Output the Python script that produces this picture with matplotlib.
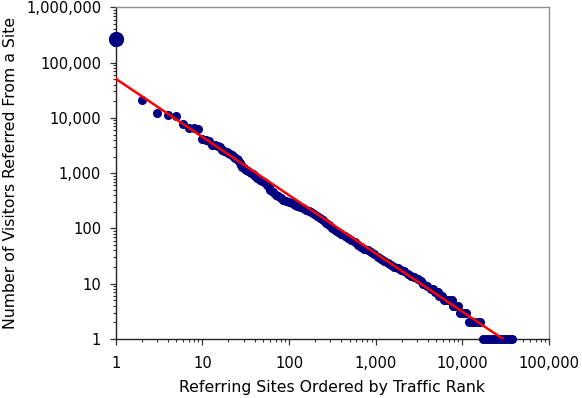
import matplotlib
matplotlib.use("Agg")
import matplotlib.pyplot as plt
from matplotlib.ticker import FuncFormatter, LogLocator, NullFormatter

###############################################################################
# data (rank of referring site, visitors referred)
top_rank = [1]
top_visitors = [263000]

ranks = [2, 3, 4, 5, 6, 7, 8, 9, 10, 11, 12, 13, 14, 15, 16, 17, 18, 19, 20,
         21, 22, 23, 24, 25, 26, 27, 28, 29, 30, 32, 34, 36, 38, 40, 43, 46,
         49, 52, 55, 58, 61, 65, 70, 75, 80, 86, 92, 100, 108, 116, 125, 134,
         145, 156, 168, 180, 195, 210, 227, 245, 265, 290, 315, 340, 370, 400,
         440, 480, 520, 570, 620, 680, 740, 810, 880, 960, 1050, 1150, 1250,
         1370, 1500, 1640, 1790, 1960, 2140, 2340, 2560, 2800, 3050, 3300,
         3550, 3900, 4300, 4600, 4800, 5200, 5400, 5900, 6200, 6600, 7000,
         7500, 7800, 8300, 8800, 9300, 9800, 10400, 11000, 11800, 12800,
         13800, 15000, 16200, 17500, 19000, 20500, 22200, 24000, 26000,
         28200, 30500, 33000, 35500, 37500]
visitors = [21000, 12000, 11500, 11000, 7900, 6600, 6450, 6300, 4150, 4000,
            3800, 3250, 3200, 3100, 3000, 2650, 2500, 2400, 2300, 2250, 2150,
            2000, 1900, 1800, 1700, 1550, 1400, 1300, 1230, 1150, 1080, 1000,
            950, 900, 830, 760, 720, 680, 620, 560, 500, 450, 410, 380, 350,
            330, 315, 300, 285, 270, 255, 245, 230, 218, 205, 195, 180, 168,
            155, 140, 128, 114, 103, 95, 87, 80, 72, 66, 61, 56, 51, 47, 43,
            40, 37, 34, 31, 28, 26, 24, 22, 20, 19, 18, 17, 15, 14, 13, 12,
            11, 10, 9, 8, 8, 7, 7, 6, 6, 5, 5, 5, 5, 4, 4, 4, 3, 3, 3, 3, 2,
            2, 2, 2, 2, 1, 1, 1, 1, 1, 1, 1, 1, 1, 1, 1]

# power-law trendline end points
trend_x = [1, 29500]
trend_y = [51000, 1]

###############################################################################
fig = plt.figure(figsize=(5.82, 3.98), dpi=100)
ax = fig.add_axes([0.1988, 0.1482, 0.7445, 0.8335])

navy = "#000080"
ax.plot(top_rank, top_visitors, ls="none", marker="o", ms=10, color=navy,
        clip_on=False, zorder=3)
ax.plot(ranks, visitors, ls="none", marker="o", ms=5.5, color=navy,
        mec=navy, clip_on=False, zorder=3)
ax.plot(trend_x, trend_y, color="#ff0000", lw=1.8, zorder=4)

ax.set_xscale("log")
ax.set_yscale("log")
ax.set_xlim(1, 100000)
ax.set_ylim(1, 1000000)

fmt = FuncFormatter(lambda v, p: "{:,.0f}".format(v))
ax.xaxis.set_major_formatter(fmt)
ax.yaxis.set_major_formatter(fmt)
ax.xaxis.set_minor_formatter(NullFormatter())
ax.yaxis.set_minor_formatter(NullFormatter())
ax.xaxis.set_minor_locator(LogLocator(base=10, subs=range(2, 10), numticks=20))
ax.yaxis.set_minor_locator(LogLocator(base=10, subs=range(2, 10), numticks=20))

ax.tick_params(which="major", direction="out", length=4.5, width=0.9,
               labelsize=10.6, color="#333333", pad=6)
ax.tick_params(which="minor", direction="out", length=2.5, width=0.8,
               color="#333333")
ax.tick_params(axis="x", which="major", pad=8)

for side in ("left", "bottom"):
    ax.spines[side].set_color("#222222")
    ax.spines[side].set_linewidth(1.0)
for side in ("top", "right"):
    ax.spines[side].set_color("#909090")
    ax.spines[side].set_linewidth(1.0)

ax.set_xlabel("Referring Sites Ordered by Traffic Rank", fontsize=11.3,
              labelpad=6)
ax.set_ylabel("Number of Visitors Referred From a Site", fontsize=11.3)
ax.yaxis.set_label_coords(-0.226, 0.5)

fig.savefig("out.png", dpi=100)
